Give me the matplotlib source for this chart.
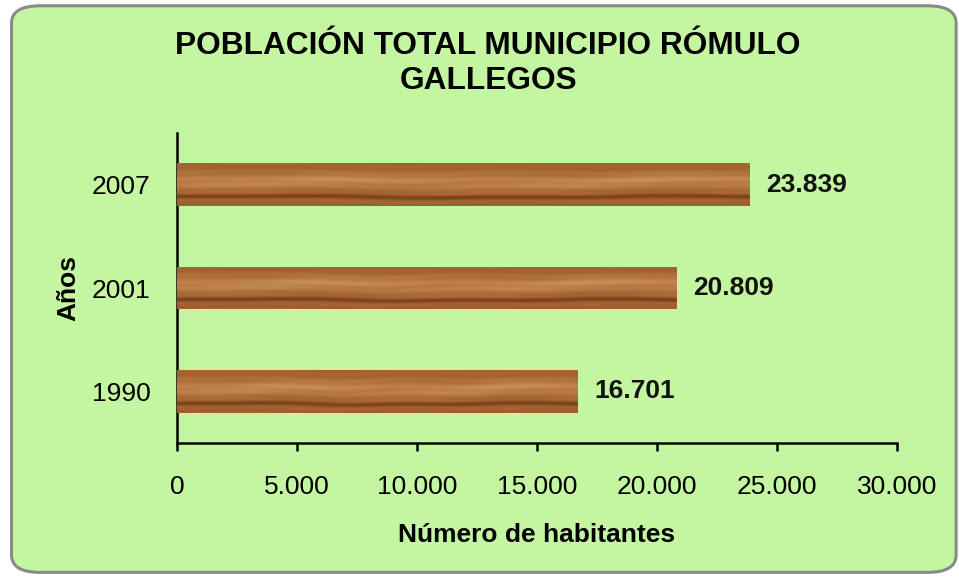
import numpy as np
import matplotlib.pyplot as plt
from matplotlib.patches import FancyBboxPatch
from matplotlib.ticker import FuncFormatter

anios = ['1990', '2001', '2007']
habitantes = [16701, 20809, 23839]

plt.rcParams['font.family'] = ['Liberation Sans', 'DejaVu Sans']

fondo = '#c4f5a0'


def textura_madera(alto=80, ancho=800):
    # perfil vertical de la tabla: borde, centro claro y veta oscura abajo
    yy, xx = np.mgrid[0:alto, 0:ancho]
    v = yy / alto
    v = v + 0.02 * np.sin(xx / 90.0) + 0.01 * np.sin(xx / 37.0 + 2.0)
    base = np.array([0.64, 0.38, 0.18])
    claro = np.array([0.77, 0.54, 0.33])
    oscuro = np.array([0.44, 0.23, 0.09])
    luz = np.exp(-((v - 0.42) / 0.2) ** 2) * (0.85 + 0.15 * np.sin(xx / 70.0 + v * 12))
    veta = np.exp(-((v - 0.78) / 0.05) ** 2)
    fina = 0.035 * np.sin(2 * np.pi * v * 6 + np.sin(xx / 60.0))
    img = base + (claro - base) * luz[..., None]
    img = img + (oscuro - img) * veta[..., None] * 0.8
    img = img * (1 + fina)[..., None]
    return np.clip(img, 0, 1)


def miles(x, pos):
    return f'{int(x):,}'.replace(',', '.')


fig = plt.figure(figsize=(9.59, 5.77), dpi=100)
fig.patch.set_facecolor('white')

marco = FancyBboxPatch((0.012, 0.008), 0.985, 0.982,
                       boxstyle='round,pad=0,rounding_size=0.03',
                       transform=fig.transFigure, facecolor=fondo,
                       edgecolor='#8a8a8a', linewidth=2.2, zorder=-5)
fig.patches.append(marco)

ax = fig.add_axes([0.1846, 0.2322, 0.7508, 0.5373])
ax.set_facecolor('none')

pos = np.arange(len(anios))
barras = ax.barh(pos, habitantes, height=0.41, color='#9c5f30', zorder=2)

tex = textura_madera()
for b in barras:
    x0, y0 = b.get_x(), b.get_y()
    im = ax.imshow(tex, extent=(x0, x0 + b.get_width(), y0, y0 + b.get_height()),
                   aspect='auto', zorder=3, interpolation='bilinear', origin='upper')
    im.set_clip_path(b)

for p, h in zip(pos, habitantes):
    ax.text(h + 700, p, miles(h, None), va='center', ha='left',
            fontsize=19, fontweight='bold', color='#111111')

ax.set_xlim(0, 30000)
ax.set_ylim(-0.5, 2.5)
ax.set_xticks(np.arange(0, 30001, 5000))
ax.xaxis.set_major_formatter(FuncFormatter(miles))
ax.set_yticks(pos)
ax.set_yticklabels(anios)

for lado in ['top', 'right']:
    ax.spines[lado].set_visible(False)
for lado in ['left', 'bottom']:
    ax.spines[lado].set_linewidth(1.8)
    ax.spines[lado].set_color('black')

ax.tick_params(axis='x', length=6, width=1.8, direction='out', labelsize=19, pad=17)
ax.tick_params(axis='y', length=0, labelsize=19, pad=19)

ax.set_xlabel('Número de habitantes', fontsize=19, fontweight='bold', labelpad=17)
ax.set_ylabel('Años', fontsize=19, fontweight='bold', labelpad=8)

fig.text(0.509, 0.89, 'POBLACIÓN TOTAL MUNICIPIO RÓMULO\nGALLEGOS', ha='center', va='center',
         fontsize=22.8, fontweight='bold', linespacing=1.2)

fig.savefig('out.png', dpi=100, facecolor=fig.get_facecolor())
